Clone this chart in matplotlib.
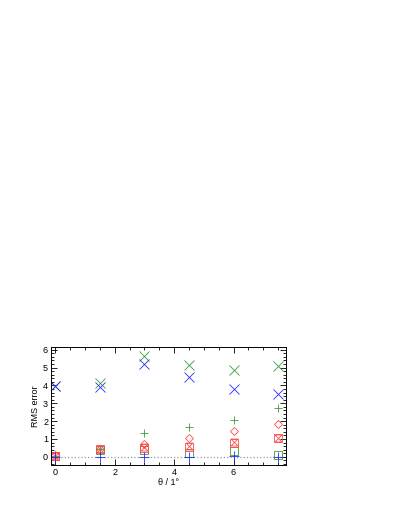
import matplotlib
matplotlib.use("Agg")
import matplotlib.pyplot as plt
from matplotlib.ticker import MultipleLocator

plt.rcParams['font.family'] = ['Liberation Sans', 'DejaVu Sans']

# offsets in degrees
theta = [0, 1.5, 3, 4.5, 6, 7.5]

green_x = [3.97, 4.12, 5.67, 5.15, 4.87, 5.11]
blue_x = [3.95, 3.93, 5.19, 4.46, 3.80, 3.52]
green_plus = [0.05, 0.42, 1.33, 1.67, 2.08, 2.73]
red_diamond = [0.10, 0.45, 0.73, 1.05, 1.42, 1.84]
red_hourglass = [0.06, 0.42, 0.54, 0.58, 0.83, 1.08]
red_square = [0.06, 0.42, 0.50, 0.55, 0.80, 1.05]
green_square = [0.05, 0.40, 0.40, 0.22, 0.30, 0.10]
blue_plus = [0.0, 0.0, 0.0, 0.0, 0.02, 0.0]

green = '#3a9a3a'
blue = '#2a2aff'
red = '#ff4a4a'
hourglass = [(-1, 1), (1, 1), (-1, -1), (1, -1), (-1, 1)]

fig = plt.figure(figsize=(4.07, 5.27), dpi=100)
ax = fig.add_axes([0.125, 0.118, 0.578, 0.224])

ax.axhline(0, color='#999999', linestyle=':', linewidth=0.9, zorder=0)

kw = dict(linestyle='none', markerfacecolor='none', markeredgewidth=0.6)
ax.plot(theta, green_square, marker='s', color=green, markersize=6, **kw)
ax.plot(theta, red_square, marker='s', color=red, markersize=5.5, **kw)
ax.plot(theta, red_hourglass, marker=hourglass, color=red, markersize=5, **kw)
ax.plot(theta, red_diamond, marker='D', color=red, markersize=4.5, **kw)
ax.plot(theta, green_plus, marker='+', color=green, markersize=6, **kw)
ax.plot(theta, blue_plus, marker='+', color=blue, markersize=7, **kw)
ax.plot(theta, green_x, marker='x', color=green, markersize=7, **kw)
ax.plot(theta, blue_x, marker='x', color=blue, markersize=7, **kw)

ax.set_xlim(-0.15, 7.77)
ax.set_ylim(-0.45, 6.17)
ax.xaxis.set_major_locator(MultipleLocator(2))
ax.xaxis.set_minor_locator(MultipleLocator(0.5))
ax.yaxis.set_major_locator(MultipleLocator(1))
ax.yaxis.set_minor_locator(MultipleLocator(0.2))
ax.tick_params(which='both', direction='in', top=True, right=True,
               labelsize=6.5, width=0.6, pad=2)
ax.tick_params(which='major', length=4)
ax.tick_params(which='minor', length=2)
for s in ax.spines.values():
    s.set_linewidth(0.7)

ax.set_xlabel('θ / 1°', fontsize=6.5, labelpad=1)
ax.set_ylabel('RMS error', fontsize=6.5, labelpad=2)

plt.savefig('out.png', dpi=100)
